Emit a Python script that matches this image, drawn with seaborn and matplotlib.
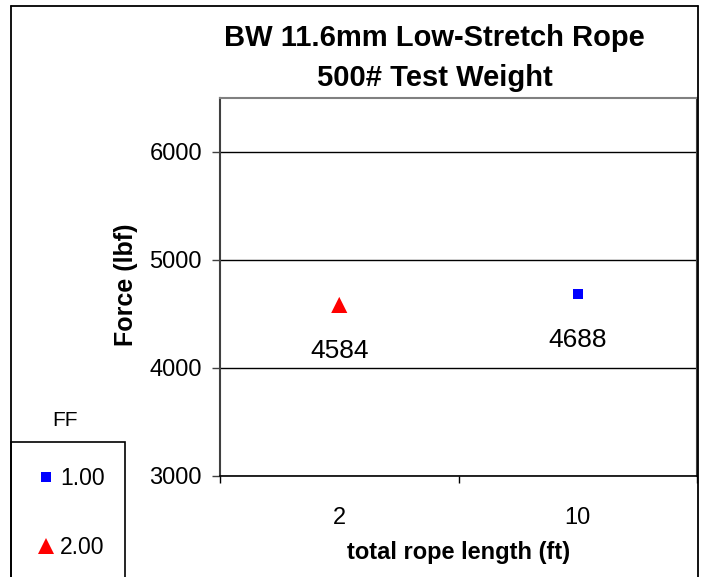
import matplotlib
matplotlib.use("Agg")
import matplotlib.pyplot as plt
import seaborn as sns
import pandas as pd
from matplotlib.lines import Line2D
from matplotlib.patches import Rectangle

# ---- data ----
rope_lengths = ["2", "10"]
ff_values = ["2.00", "1.00"]
forces = [4584, 4688]
y_ticks = [3000, 4000, 5000, 6000]
ff_order = ["1.00", "2.00"]
ff_colors = {"1.00": "#0000FF", "2.00": "#FF0000"}
ff_markers = {"1.00": "s", "2.00": "^"}
ff_sizes = {"1.00": 52, "2.00": 135}

df = pd.DataFrame({"length": rope_lengths, "FF": ff_values, "force": forces})

sns.set_theme(style="white")
plt.rcParams["font.family"] = ["Liberation Sans", "DejaVu Sans"]
plt.rcParams["text.color"] = "black"
plt.rcParams["axes.labelcolor"] = "black"
plt.rcParams["xtick.color"] = "black"
plt.rcParams["ytick.color"] = "black"

W, H = 705, 577
fig = plt.figure(figsize=(W / 100, H / 100), dpi=100)
fig.patch.set_facecolor("white")

def fx(px):
    return px / W

def fy(py):
    return 1 - py / H

L, T, R, B = 220, 98, 697, 476
ax = fig.add_axes([fx(L), fy(B), (R - L) / W, (B - T) / H])

sns.scatterplot(data=df, x="length", y="force", hue="FF", style="FF", size="FF",
                hue_order=ff_order, style_order=ff_order, size_order=ff_order,
                palette=ff_colors, markers=ff_markers, sizes=ff_sizes,
                linewidth=0, ax=ax, legend=False, zorder=5)

ax.set_xlim(-0.5, 1.5)
ax.set_ylim(3000, 6500)
ax.set_yticks(y_ticks)
ax.set_yticklabels([str(v) for v in y_ticks], fontsize=17)
ax.set_xticks(range(len(rope_lengths)))
ax.set_xticklabels(rope_lengths, fontsize=17)
ax.set_xticks([-0.5, 0.5, 1.5], minor=True)
ax.tick_params(axis="x", which="major", bottom=True, length=0, pad=22)
ax.tick_params(axis="x", which="minor", bottom=True, length=5, width=1,
               color="#000000", direction="out")
ax.tick_params(axis="y", which="major", left=True, length=6, width=1,
               color="#404040", direction="out", pad=7)
ax.yaxis.grid(True, color="#000000", linewidth=1)
ax.set_axisbelow(True)

for s in ["left", "right"]:
    ax.spines[s].set_color("#404040")
    ax.spines[s].set_linewidth(1.5)
ax.spines["top"].set_color("#808080")
ax.spines["top"].set_linewidth(1.5)
ax.spines["bottom"].set_color("#000000")
ax.spines["bottom"].set_linewidth(1.2)

ax.set_xlabel("total rope length (ft)", fontsize=17, fontweight="bold")
ax.set_ylabel("Force (lbf)", fontsize=18, fontweight="bold")
ax.xaxis.set_label_coords(0.5, (B - 553) / (B - T), transform=ax.transAxes)
ax.yaxis.set_label_coords((126 - L) / (R - L), (B - 285) / (B - T), transform=ax.transAxes)
ax.xaxis.label.set_va("center")
ax.yaxis.label.set_va("center")

for i, v in enumerate(forces):
    ax.annotate(str(v), (i, v), xytext=(0, -33), textcoords="offset points",
                ha="center", va="center", fontsize=19)

# titles
fig.text(fx(434), fy(38), "BW 11.6mm Low-Stretch Rope", ha="center", va="center",
         fontsize=21, fontweight="bold")
fig.text(fx(435), fy(78), "500# Test Weight", ha="center", va="center",
         fontsize=21, fontweight="bold")

# outer chart border (left, top, right)
fig.add_artist(Line2D([fx(11), fx(11)], [fy(6), 0], transform=fig.transFigure,
                      color="#000000", lw=1.3))
fig.add_artist(Line2D([fx(11), fx(698)], [fy(6), fy(6)], transform=fig.transFigure,
                      color="#000000", lw=1.3))
fig.add_artist(Line2D([fx(698), fx(698)], [fy(6), 0], transform=fig.transFigure,
                      color="#000000", lw=1.3))

# legend
fig.text(fx(65), fy(420), "FF", ha="center", va="center", fontsize=15)
fig.add_artist(Rectangle((fx(11), -0.05), fx(125) - fx(11), fy(442) + 0.05,
                         transform=fig.transFigure, fill=False, edgecolor="#000000", lw=1.2))
handles = [Line2D([], [], linestyle="none", marker=ff_markers[k], color=ff_colors[k],
                  markersize=(ff_sizes[k]) ** 0.5, markeredgewidth=0) for k in ff_order]
fig.legend(handles, ff_order, loc="upper left", bbox_to_anchor=(fx(36), fy(467)),
           frameon=False, fontsize=16.5, labelspacing=2.0, handlelength=0.9,
           handletextpad=0.15, borderpad=0, borderaxespad=0)

fig.savefig("out.png", dpi=100, facecolor="white")
